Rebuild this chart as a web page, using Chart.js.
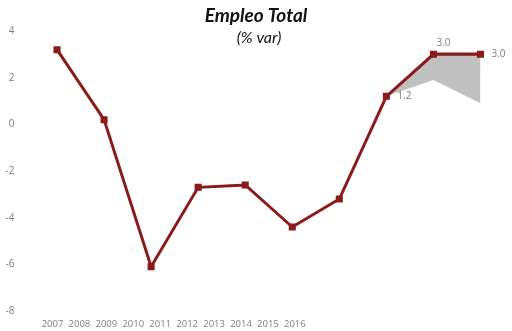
<!DOCTYPE html>
<html>
<head>
<meta charset="utf-8">
<script src="https://cdn.jsdelivr.net/npm/chart.js@4"></script>
<style>
  html, body { margin: 0; padding: 0; background: #fff; }
  #wrap { width: 512px; height: 331px; }
</style>
</head>
<body>
<div id="wrap"><canvas id="empleoChart"></canvas></div>
<script>
// Employment growth, % change per year
const years = [2007, 2008, 2009, 2010, 2011, 2012, 2013, 2014, 2015, 2016];
const empleo = [3.2, 0.2, -6.1, -2.7, -2.6, -4.4, -3.2, 1.2, 3.0, 3.0];
// Forecast band (upper / lower) for the last years
const bandHigh = [null, null, null, null, null, null, null, 1.2, 3.1, 3.1];
const bandLow = [null, null, null, null, null, null, null, 1.2, 1.9, 0.9];
// Points that carry a value label
const labelled = [7, 8, 9];
const yTicks = [-8, -6, -4, -2, 0, 2, 4];

const red = '#8b1a1a';
const grey = '#808080';

const toXY = arr => arr.map((v, i) => ({ x: i, y: v }));

// Centered title block
const titlePlugin = {
    id: 'titleBlock',
    afterDraw(chart) {
        const ctx = chart.ctx;
        ctx.save();
        ctx.fillStyle = '#111';
        ctx.textAlign = 'center';
        ctx.textBaseline = 'middle';
        ctx.font = 'italic bold 19px Lato';
        ctx.fillText('Empleo Total', 256, 16);
        ctx.font = 'italic 16px Lato';
        ctx.fillText('(% var)', 259, 38);
        ctx.restore();
    }
};

// Value labels next to the last points
const valueLabels = {
    id: 'valueLabels',
    afterDatasetsDraw(chart) {
        const meta = chart.getDatasetMeta(0);
        const ctx = chart.ctx;
        ctx.save();
        ctx.fillStyle = grey;
        ctx.font = '10px "Open Sans"';
        ctx.textBaseline = 'middle';
        labelled.forEach(i => {
            const pt = meta.data[i];
            const txt = empleo[i].toFixed(1);
            if (i === 8) {
                ctx.textAlign = 'center';
                ctx.fillText(txt, pt.x + 10, pt.y - 11);
            } else {
                ctx.textAlign = 'left';
                ctx.fillText(txt, pt.x + 11, pt.y);
            }
        });
        ctx.restore();
    }
};

new Chart(document.getElementById('empleoChart'), {
    type: 'line',
    data: {
        datasets: [
            {
                data: toXY(empleo),
                order: 0,
                borderColor: red,
                borderWidth: 3,
                pointStyle: 'rect',
                pointRadius: 5,
                pointBackgroundColor: red,
                pointBorderColor: red,
                pointBorderWidth: 0,
                fill: false,
                tension: 0
            },
            {
                data: toXY(bandHigh),
                order: 1,
                borderWidth: 0,
                pointRadius: 0,
                fill: false,
                backgroundColor: '#c0c0c0'
            },
            {
                data: toXY(bandLow),
                order: 2,
                borderWidth: 0,
                pointRadius: 0,
                fill: '-1',
                backgroundColor: '#c0c0c0'
            }
        ]
    },
    options: {
        responsive: true,
        maintainAspectRatio: false,
        animation: false,
        layout: { padding: { top: 31, right: 8, bottom: 0, left: 0 } },
        plugins: {
            legend: { display: false },
            tooltip: { enabled: false }
        },
        scales: {
            x: {
                type: 'linear',
                min: -0.5,
                max: 9.5,
                display: false
            },
            years: {
                type: 'linear',
                position: 'bottom',
                min: 2006.294,
                max: 2023.766,
                grid: { display: false },
                border: { display: false },
                afterBuildTicks: scale => {
                    scale.ticks = years.map(v => ({ value: v }));
                },
                afterFit: scale => { scale.height = 20; },
                ticks: {
                    color: grey,
                    font: { family: 'Open Sans', size: 9.5 },
                    maxRotation: 0,
                    autoSkip: false,
                    padding: 0,
                    callback: v => String(v)
                }
            },
            y: {
                min: -8,
                max: 4,
                grid: { display: false },
                border: { display: false },
                afterBuildTicks: scale => {
                    scale.ticks = yTicks.map(v => ({ value: v }));
                },
                afterFit: scale => { scale.width = 33.5; },
                ticks: {
                    color: grey,
                    font: { family: 'Open Sans', size: 10 },
                    padding: 11
                }
            }
        }
    },
    plugins: [titlePlugin, valueLabels]
});
</script>
</body>
</html>
